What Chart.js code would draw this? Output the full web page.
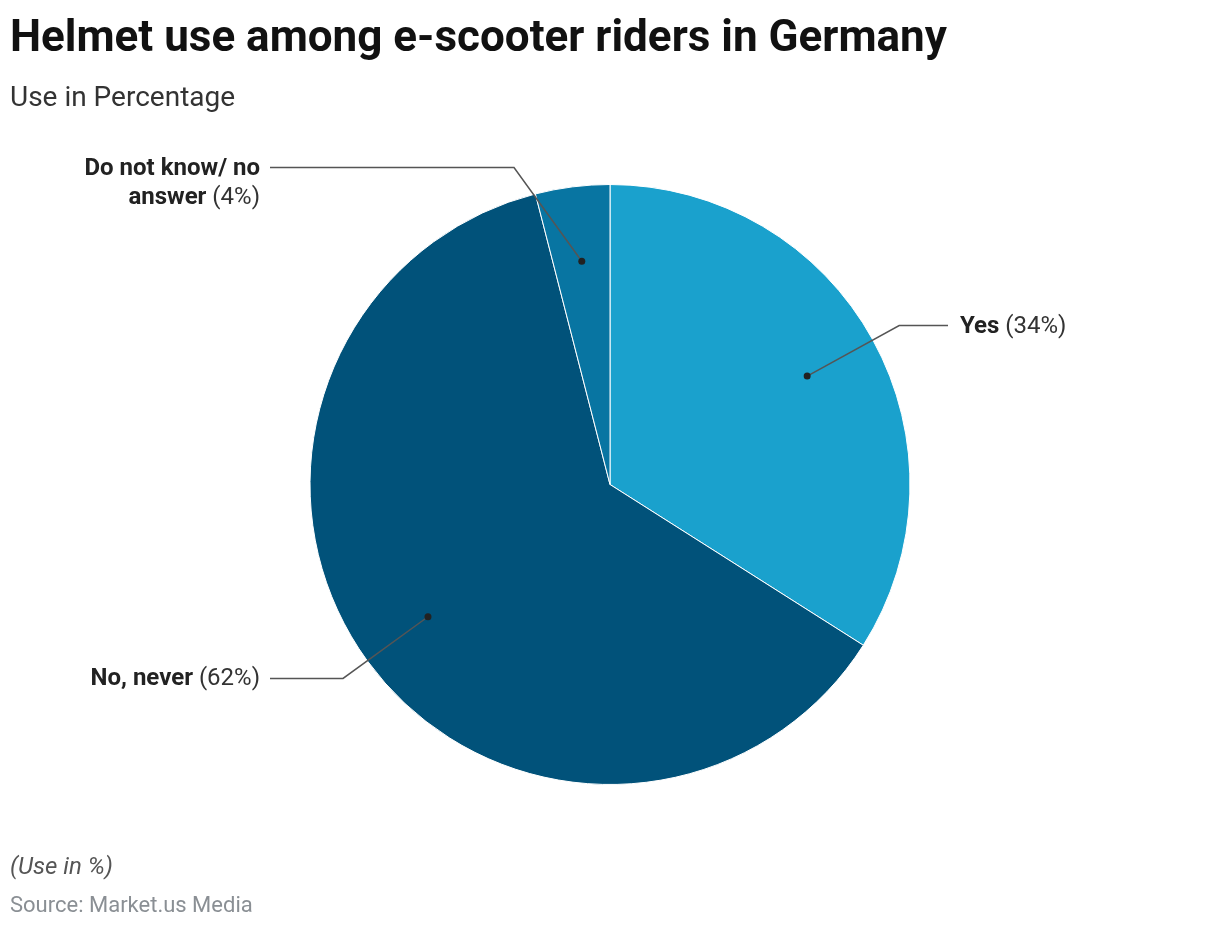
<!DOCTYPE html>
<html lang="en">
<head>
    <meta charset="utf-8">
    <title>Helmet use among e-scooter riders in Germany</title>
    <script src="https://cdn.jsdelivr.net/npm/chart.js"></script>
    <style>
        body { margin: 0; width: 1220px; height: 928px; position: relative; font-family: Roboto, sans-serif; background: #fff; overflow: hidden; }
        #chartBox { position: absolute; left: 0; top: 0; width: 1220px; height: 928px; }
        h1 { position: absolute; left: 10px; top: 11px; margin: 0; font-size: 44px; line-height: 50px; font-weight: 700; color: #111; white-space: nowrap; }
        .sub { position: absolute; left: 10px; top: 81px; font-size: 28px; line-height: 32px; color: #333; }
        .note { position: absolute; left: 10px; top: 852px; font-size: 24px; line-height: 28px; font-style: italic; color: #555; }
        .src { position: absolute; left: 10px; top: 892px; font-size: 22px; line-height: 26px; color: #8a8f94; }
    </style>
</head>
<body>
    <div id="chartBox"><canvas id="pieChart"></canvas></div>
    <h1>Helmet use among e-scooter riders in Germany</h1>
    <div class="sub">Use in Percentage</div>
    <div class="note">(Use in %)</div>
    <div class="src">Source: Market.us Media</div>

    <script>
        const categories = ['Yes', 'No, never', 'Do not know/ no answer'];
        const shares = [34, 62, 4];
        const sliceColors = ['#1aa1cd', '#01527a', '#0875a2'];
        // label lines for the callouts (wrapped like the original)
        const labelLines = [['Yes'], ['No, never'], ['Do not know/ no', 'answer']];

        // callout labels with leader lines
        const calloutPlugin = {
            id: 'callouts',
            afterDatasetsDraw(chart) {
                const ctx = chart.ctx;
                const meta = chart.getDatasetMeta(0);
                meta.data.forEach((arc, i) => {
                    const { x: cx, y: cy, outerRadius: R, startAngle, endAngle } = arc.getProps(['x', 'y', 'outerRadius', 'startAngle', 'endAngle'], true);
                    const mid = (startAngle + endAngle) / 2;
                    const dx = Math.cos(mid), dy = Math.sin(mid);
                    const dot = { x: cx + dx * R * 0.75, y: cy + dy * R * 0.75 };
                    let elbow = { x: cx + dx * R * 1.1, y: cy + dy * R * 1.1 };
                    const minY = cy - R - 17;
                    if (elbow.y < minY) {
                        elbow = { x: cx - R * 0.32, y: minY };
                    }
                    const right = dx >= 0;
                    const endX = right ? cx + 338 : cx - 340;

                    ctx.save();
                    ctx.strokeStyle = '#555';
                    ctx.lineWidth = 1.5;
                    ctx.beginPath();
                    ctx.moveTo(dot.x, dot.y);
                    ctx.lineTo(elbow.x, elbow.y);
                    ctx.lineTo(endX, elbow.y);
                    ctx.stroke();
                    ctx.fillStyle = '#222';
                    ctx.beginPath();
                    ctx.arc(dot.x, dot.y, 3.5, 0, Math.PI * 2);
                    ctx.fill();

                    const lines = labelLines[i];
                    const pct = ' (' + shares[i] + '%)';
                    const bold = '700 24px Roboto';
                    const reg = '400 24px Roboto';
                    ctx.textBaseline = 'middle';
                    lines.forEach((ln, j) => {
                        const y = elbow.y + 1 + j * 29;
                        const last = j === lines.length - 1;
                        ctx.font = bold;
                        const wB = ctx.measureText(ln).width;
                        ctx.font = reg;
                        const wR = last ? ctx.measureText(pct).width : 0;
                        const x0 = right ? endX + 12 : endX - 10 - wB - wR;
                        ctx.fillStyle = '#222';
                        ctx.font = bold;
                        ctx.textAlign = 'left';
                        ctx.fillText(ln, x0, y);
                        if (last) {
                            ctx.font = reg;
                            ctx.fillStyle = '#333';
                            ctx.fillText(pct, x0 + wB, y);
                        }
                    });
                    ctx.restore();
                });
            }
        };

        const ctx = document.getElementById('pieChart').getContext('2d');
        const myChart = new Chart(ctx, {
            type: 'pie',
            data: {
                labels: categories,
                datasets: [{
                    data: shares,
                    backgroundColor: sliceColors,
                    borderColor: '#ffffff',
                    borderWidth: 1
                }]
            },
            options: {
                responsive: true,
                maintainAspectRatio: false,
                animation: false,
                layout: { padding: { top: 184, bottom: 143, left: 0, right: 0 } },
                plugins: {
                    legend: { display: false },
                    tooltip: { enabled: false }
                }
            },
            plugins: [calloutPlugin]
        });
    </script>
</body>
</html>
